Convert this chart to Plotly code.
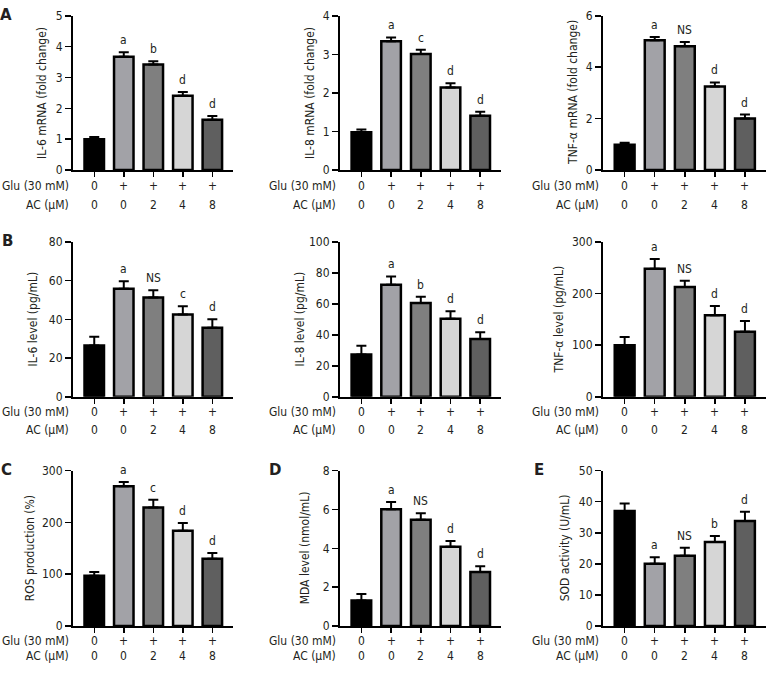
import plotly.graph_objects as go

W, H = 771, 677

# ---------------- data ----------------
categories = [0, 1, 2, 3, 4]
glu_labels = ["0", "+", "+", "+", "+"]
ac_labels = ["0", "0", "2", "4", "8"]
bar_colors = ["#000000", "#a2a2a7", "#7f7f7f", "#d6d6d6", "#5f5f5f"]

il6_mrna = [1.00, 3.67, 3.42, 2.41, 1.63]
il6_mrna_err = [0.07, 0.15, 0.11, 0.12, 0.12]
il6_mrna_sig = ["", "a", "b", "d", "d"]

il8_mrna = [0.98, 3.34, 3.01, 2.14, 1.41]
il8_mrna_err = [0.07, 0.10, 0.11, 0.11, 0.10]
il8_mrna_sig = ["", "a", "c", "d", "d"]

tnf_mrna = [0.98, 5.05, 4.82, 3.25, 2.01]
tnf_mrna_err = [0.08, 0.13, 0.16, 0.16, 0.15]
tnf_mrna_sig = ["", "a", "NS", "d", "d"]

il6_level = [26.5, 55.9, 51.3, 42.5, 35.7]
il6_level_err = [4.5, 3.8, 3.8, 4.3, 4.4]
il6_level_sig = ["", "a", "NS", "c", "d"]

il8_level = [27.3, 72.4, 60.6, 50.5, 37.4]
il8_level_err = [5.6, 5.4, 4.1, 4.7, 4.3]
il8_level_sig = ["", "a", "b", "d", "d"]

tnf_level = [100, 248, 213, 158, 126]
tnf_level_err = [16, 19, 12, 18, 21]
tnf_level_sig = ["", "a", "NS", "d", "d"]

ros = [97, 270, 229, 184, 130]
ros_err = [7, 8, 15, 15, 11]
ros_sig = ["", "a", "c", "d", "d"]

mda = [1.31, 6.02, 5.47, 4.08, 2.78]
mda_err = [0.33, 0.37, 0.34, 0.30, 0.29]
mda_sig = ["", "a", "NS", "d", "d"]

sod = [37.0, 20.0, 22.6, 27.0, 33.8]
sod_err = [2.4, 2.1, 2.6, 2.0, 3.0]
sod_sig = ["", "a", "NS", "b", "d"]

# ---------------- layout geometry (pixels) ----------------
cols = [(73, 233), (340, 501), (603, 766)]
rows = [(9, 166.5), (240, 398), (473.5, 632)]
glu_row_y = [183, 414, 647]
ac_row_y = [202, 432, 663]

panels = [
    # values, err, sig, ytitle, ymax, dtick, row, col, ytitle_x
    (il6_mrna, il6_mrna_err, il6_mrna_sig, "IL-6 mRNA (fold change)", 5, 1, 0, 0, 42),
    (il8_mrna, il8_mrna_err, il8_mrna_sig, "IL-8 mRNA (fold change)", 4, 1, 0, 1, 310),
    (tnf_mrna, tnf_mrna_err, tnf_mrna_sig, "TNF-α mRNA (fold change)", 6, 2, 0, 2, 573),
    (il6_level, il6_level_err, il6_level_sig, "IL-6 level (pg/mL)", 80, 20, 1, 0, 33),
    (il8_level, il8_level_err, il8_level_sig, "IL-8 level (pg/mL)", 100, 20, 1, 1, 300),
    (tnf_level, tnf_level_err, tnf_level_sig, "TNF-α level (pg/mL)", 300, 100, 1, 2, 559),
    (ros, ros_err, ros_sig, "ROS production (%)", 300, 100, 2, 0, 30),
    (mda, mda_err, mda_sig, "MDA level (nmol/mL)", 8, 2, 2, 1, 305),
    (sod, sod_err, sod_sig, "SOD activity (U/mL)", 50, 10, 2, 2, 565),
]

panel_letters = [("A", 6, 8), ("B", 7, 239), ("C", 6, 473), ("D", 275, 473), ("E", 539, 473)]

FONT = "Tahoma, 'DejaVu Sans Condensed', 'DejaVu Sans', sans-serif"
TXT = "#231f20"


def px_x(x):
    return x / W


def px_y(y):
    return 1 - y / H


fig = go.Figure()
layout = dict(
    width=W, height=H,
    margin=dict(l=0, r=0, t=0, b=0),
    paper_bgcolor="white", plot_bgcolor="white",
    showlegend=False,
    font=dict(family=FONT, size=12, color=TXT),
)
annotations = []

for i, (vals, errs, sig, ytitle, ymax, dtick, r, c, tx) in enumerate(panels):
    n = i + 1
    xa = "x" if n == 1 else f"x{n}"
    ya = "y" if n == 1 else f"y{n}"
    x0, x1 = cols[c]
    ytop, ybot = rows[r]

    fig.add_trace(go.Bar(
        x=categories, y=vals, xaxis=xa, yaxis=ya,
        width=0.66,
        marker=dict(color=bar_colors, line=dict(color="black", width=2.5)),
        error_y=dict(type="data", array=errs, arrayminus=[0] * len(errs),
                     symmetric=False, color="black", thickness=2, width=5),
    ))

    layout["xaxis" if n == 1 else f"xaxis{n}"] = dict(
        domain=[px_x(x0), px_x(x1)], anchor=ya,
        range=[-0.72, 4.7], showgrid=False, zeroline=False,
        showline=True, linecolor="black", linewidth=2,
        tickmode="array", tickvals=categories, ticktext=[""] * 5,
        ticks="outside", ticklen=5, tickwidth=1.5, tickcolor="black",
        fixedrange=True,
    )
    layout["yaxis" if n == 1 else f"yaxis{n}"] = dict(
        domain=[px_y(ybot), px_y(ytop)], anchor=xa,
        range=[0, ymax], dtick=dtick, tick0=0, showgrid=False, zeroline=False,
        showline=True, linecolor="black", linewidth=2,
        ticks="outside", ticklen=6, tickwidth=1.5, tickcolor="black",
        tickfont=dict(size=12, color=TXT, family=FONT),
        fixedrange=True,
    )

    # y title
    annotations.append(dict(
        text=ytitle, xref="paper", yref="paper",
        x=px_x(tx), y=px_y((ytop + ybot) / 2), textangle=-90,
        showarrow=False, xanchor="center", yanchor="middle",
        font=dict(size=12, color=TXT, family=FONT),
    ))
    # significance letters
    for k in range(5):
        if sig[k]:
            annotations.append(dict(
                text=sig[k], xref=xa, yref=ya, x=categories[k], y=vals[k] + errs[k],
                showarrow=False, xanchor="center", yanchor="bottom", yshift=3,
                font=dict(size=12, color=TXT, family=FONT),
            ))
    # condition rows
    for k in range(5):
        annotations.append(dict(
            text=glu_labels[k], xref=xa, yref="paper", x=categories[k], y=px_y(glu_row_y[r]),
            showarrow=False, xanchor="center", yanchor="middle",
            font=dict(size=12, color=TXT, family=FONT),
        ))
        annotations.append(dict(
            text=ac_labels[k], xref=xa, yref="paper", x=categories[k], y=px_y(ac_row_y[r]),
            showarrow=False, xanchor="center", yanchor="middle",
            font=dict(size=12, color=TXT, family=FONT),
        ))
    annotations.append(dict(
        text="Glu (30 mM)", xref="paper", yref="paper", x=px_x(x0 - 2), y=px_y(glu_row_y[r]),
        showarrow=False, xanchor="right", yanchor="middle",
        font=dict(size=12, color=TXT, family=FONT),
    ))
    annotations.append(dict(
        text="AC (μM)", xref="paper", yref="paper", x=px_x(x0 - 2), y=px_y(ac_row_y[r]),
        showarrow=False, xanchor="right", yanchor="middle",
        font=dict(size=12, color=TXT, family=FONT),
    ))

for letter, lx, ly in panel_letters:
    annotations.append(dict(
        text=f"<b>{letter}</b>", xref="paper", yref="paper", x=px_x(lx), y=px_y(ly),
        showarrow=False, xanchor="center", yanchor="middle",
        font=dict(size=15, color=TXT, family="'DejaVu Sans', sans-serif"),
    ))

layout["annotations"] = annotations
fig.update_layout(**layout)
fig.write_html(
    "out.html",
    config={"displayModeBar": False, "staticPlot": True},
    post_script="document.body.style.margin='0px';document.body.style.padding='0px';",
)
